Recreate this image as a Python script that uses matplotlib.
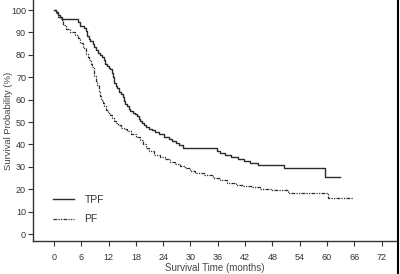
import matplotlib
matplotlib.use('Agg')
import matplotlib.pyplot as plt
from matplotlib.lines import Line2D

plt.rcParams['font.family'] = ['Liberation Sans', 'DejaVu Sans']

# Kaplan-Meier step points (months, survival %)
tpf_t = [0, 0.4, 0.8, 1.3, 1.8, 5.2, 5.8, 6.5, 7.0, 7.3, 7.6, 8.0, 8.5, 8.9, 9.2, 9.7,
         10.2, 10.6, 10.9, 11.3, 11.6, 12.0, 12.4, 12.7, 13.0, 13.3, 13.6, 13.9, 14.3,
         14.7, 15.1, 15.4, 15.7, 16.0, 16.4, 16.8, 17.3, 17.8, 18.2, 18.6, 19.0, 19.3,
         19.7, 20.2, 20.8, 21.5, 22.2, 23.2, 24.2, 25.2, 26.0, 26.8, 27.5,
         28.4, 35.8, 36.5, 37.5, 39.0, 40.5, 41.8, 43.0, 44.8, 50.6, 59.6, 62.8]
tpf_s = [100, 99, 98, 97, 95.8, 94.5, 93, 92, 90.5, 88.5, 87, 86, 85, 83.5, 82, 81,
         80, 79, 77.5, 76, 75, 74.3, 73.5, 72, 70, 67.5, 66, 65, 63.5,
         62.5, 61, 59.5, 58, 57, 56, 55, 54.2, 53.5, 52.8, 51.5, 50.5, 49.5,
         48.5, 47.8, 47, 46.3, 45.5, 44.5, 43.5, 42.5, 41.5, 40.5, 39.7,
         38.4, 37.2, 36.2, 35.3, 34.5, 33.6, 32.8, 31.8, 30.8, 29.5, 25.4, 25.4]

pf_t = [0, 0.5, 1.0, 1.5, 2.0, 2.6, 3.5, 4.6, 5.2, 5.7, 6.3, 7.0, 7.4, 7.8, 8.1, 8.4,
        8.7, 8.9, 9.2, 9.5, 9.8, 10.1, 10.4, 10.7, 11.1, 11.5, 11.9, 12.3, 12.7, 13.1,
        13.6, 14.1, 14.7, 15.3, 16.0, 17.0, 18.0,
        18.9, 19.5, 20.3, 21.0, 22.0, 23.3, 24.5, 25.5, 26.5, 27.7, 28.8, 29.9, 31.0,
        33.0, 35.0, 36.5, 38.0, 40.0, 41.6, 43.5, 45.3, 48.0, 51.4, 60.2, 65.7]
pf_s = [100, 98.5, 97, 95.5, 93.5, 91.5, 90, 89, 87.5, 85.5, 83, 80.5, 79, 77.5, 76, 74.5,
        72.5, 70.5, 68.5, 66.5, 64, 61.5, 60, 58.5, 57.2, 55.5, 54, 53, 51.7, 50.5,
        49.5, 48.5, 47.5, 46.8, 46, 44.5, 43.5,
        42, 40, 38.5, 37, 35.5, 34.4, 33.5, 32.3, 31.3, 30.6, 29.5, 28.3, 27.2,
        26.2, 25, 24, 23, 22, 21.5, 20.8, 20.2, 19.6, 18.3, 16.0, 16.0]

xticks = list(range(0, 73, 6))
yticks = list(range(0, 101, 10))

fig = plt.figure(figsize=(4, 2.74), dpi=100)
ax = fig.add_axes([0.0825, 0.1204, 0.9100, 0.8796])

ax.step(tpf_t, tpf_s, where='post', color='#2b2b2b', lw=1.0, label='TPF')
ax.step(pf_t, pf_s, where='post', color='#2b2b2b', lw=0.9,
        linestyle=(0, (3, 1, 1, 1, 1, 1)), label='PF')

ax.set_xlim(-4.6, 75.4)
ax.set_ylim(-3.1, 104.5)
ax.set_xticks(xticks)
ax.set_yticks(yticks)
ax.tick_params(labelsize=6.5, colors='#333333', length=3.5, width=0.8)
ax.tick_params(axis='x', pad=5)
ax.tick_params(axis='y', pad=1.5)
for s in ['top', 'right']:
    ax.spines[s].set_visible(False)
for s in ['left', 'bottom']:
    ax.spines[s].set_color('#333333')
    ax.spines[s].set_linewidth(1.0)

ax.set_xlabel('Survival Time (months)', fontsize=7, color='#444444', labelpad=1)
ax.set_ylabel('Survival Probability (%)', fontsize=6.8, color='#444444')
ax.yaxis.set_label_coords(-0.056, 0.5)

ax.legend(loc='upper left', bbox_to_anchor=(0.03, 0.23), frameon=False, fontsize=7.5,
          handlelength=2.0, handletextpad=1.0, labelspacing=0.9, labelcolor='#333333')

fig.add_artist(Line2D([0.996, 0.996], [0, 1], color='black', lw=1.5,
                      transform=fig.transFigure))

fig.savefig('out.png', dpi=100)
